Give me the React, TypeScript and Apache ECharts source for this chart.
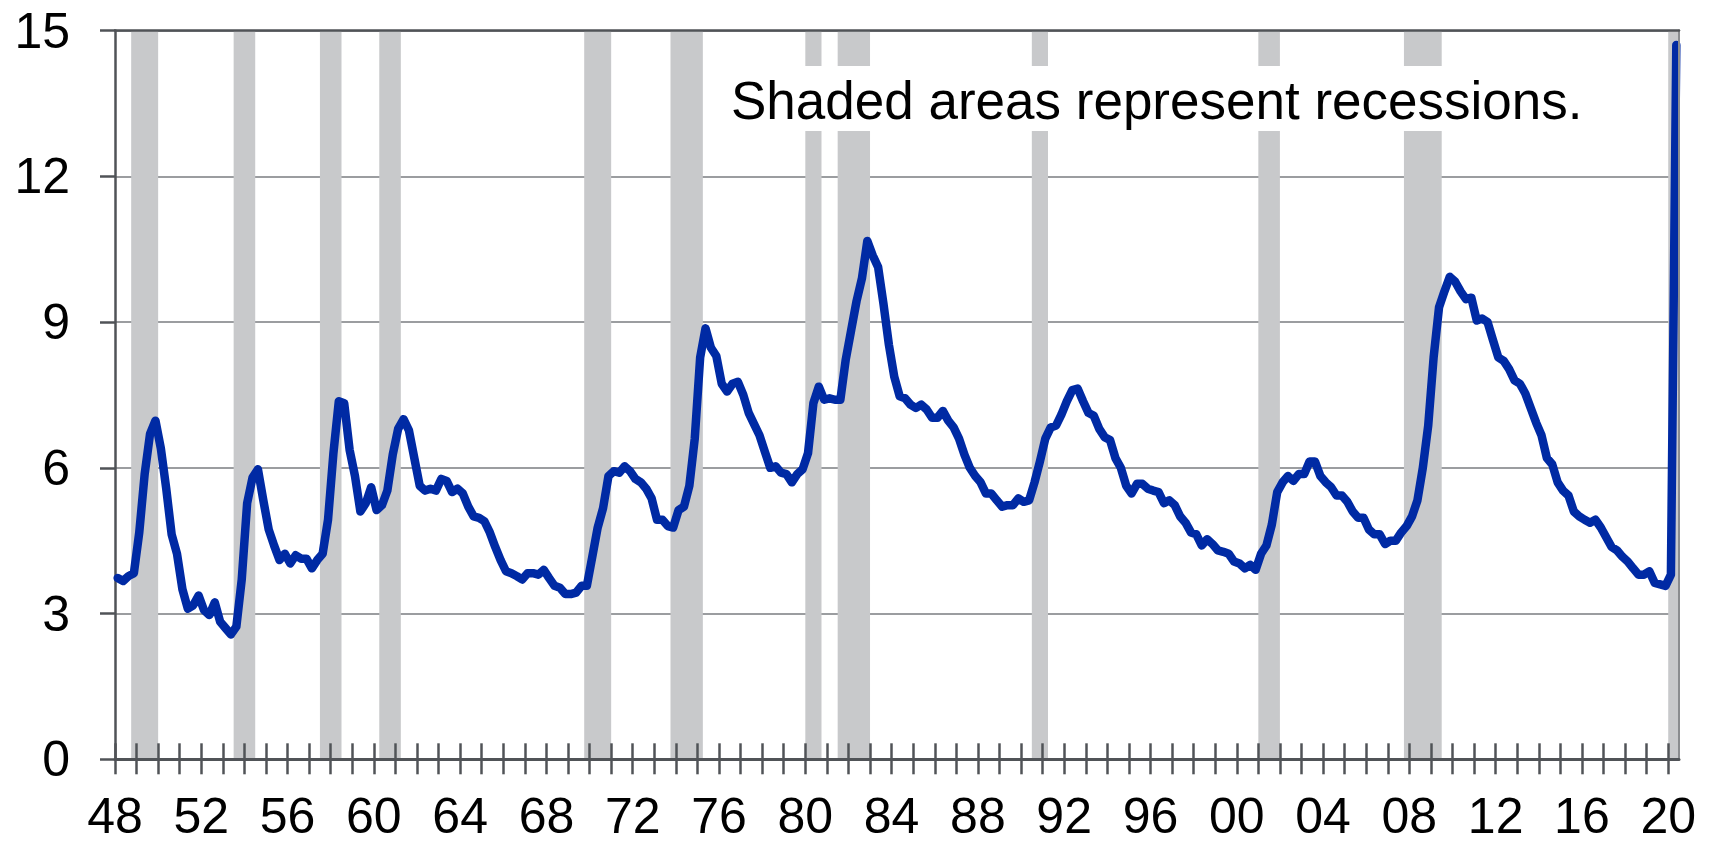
import React, { useEffect, useRef } from "react";
import * as echarts from "echarts";

// Quarterly average unemployment rate (%), starting 1948 Q1
const startYear = 1948;
const quarterlyRate: number[] = [
  3.73, 3.67, 3.77, 3.83, // 1948
  4.67, 5.87, 6.7, 6.97, // 1949
  6.4, 5.57, 4.63, 4.23, // 1950
  3.5, 3.1, 3.17, 3.37, // 1951
  3.07, 2.97, 3.23, 2.83, // 1952
  2.7, 2.57, 2.73, 3.7, // 1953
  5.27, 5.8, 5.97, 5.33, // 1954
  4.73, 4.4, 4.1, 4.23, // 1955
  4.03, 4.2, 4.13, 4.13, // 1956
  3.93, 4.1, 4.23, 4.93, // 1957
  6.3, 7.37, 7.33, 6.37, // 1958
  5.83, 5.1, 5.27, 5.6, // 1959
  5.13, 5.23, 5.53, 6.27, // 1960
  6.8, 7.0, 6.77, 6.2, // 1961
  5.63, 5.53, 5.57, 5.53, // 1962
  5.77, 5.73, 5.5, 5.57, // 1963
  5.47, 5.2, 5.0, 4.97, // 1964
  4.9, 4.67, 4.37, 4.1, // 1965
  3.87, 3.83, 3.77, 3.7, // 1966
  3.83, 3.83, 3.8, 3.9, // 1967
  3.73, 3.57, 3.53, 3.4, // 1968
  3.4, 3.43, 3.57, 3.57, // 1969
  4.17, 4.77, 5.17, 5.83, // 1970
  5.93, 5.9, 6.03, 5.93, // 1971
  5.77, 5.7, 5.57, 5.37, // 1972
  4.93, 4.93, 4.8, 4.77, // 1973
  5.13, 5.2, 5.63, 6.6, // 1974
  8.27, 8.87, 8.47, 8.3, // 1975
  7.73, 7.57, 7.73, 7.77, // 1976
  7.5, 7.13, 6.9, 6.67, // 1977
  6.33, 6.0, 6.03, 5.9, // 1978
  5.87, 5.7, 5.87, 5.97, // 1979
  6.3, 7.33, 7.67, 7.4, // 1980
  7.43, 7.4, 7.4, 8.23, // 1981
  8.83, 9.43, 9.9, 10.67, // 1982
  10.37, 10.13, 9.37, 8.53, // 1983
  7.87, 7.47, 7.43, 7.3, // 1984
  7.23, 7.3, 7.2, 7.03, // 1985
  7.03, 7.17, 6.97, 6.83, // 1986
  6.6, 6.27, 6.0, 5.83, // 1987
  5.7, 5.47, 5.47, 5.33, // 1988
  5.2, 5.23, 5.23, 5.37, // 1989
  5.3, 5.33, 5.7, 6.13, // 1990
  6.6, 6.83, 6.87, 7.1, // 1991
  7.37, 7.6, 7.63, 7.37, // 1992
  7.13, 7.07, 6.8, 6.63, // 1993
  6.57, 6.2, 6.0, 5.63, // 1994
  5.47, 5.67, 5.67, 5.57, // 1995
  5.53, 5.5, 5.27, 5.33, // 1996
  5.23, 5.0, 4.87, 4.67, // 1997
  4.63, 4.4, 4.53, 4.43, // 1998
  4.3, 4.27, 4.23, 4.07, // 1999
  4.03, 3.93, 4.0, 3.9, // 2000
  4.23, 4.4, 4.83, 5.5, // 2001
  5.7, 5.83, 5.73, 5.87, // 2002
  5.87, 6.13, 6.13, 5.83, // 2003
  5.7, 5.6, 5.43, 5.43, // 2004
  5.3, 5.1, 4.97, 4.97, // 2005
  4.73, 4.63, 4.63, 4.43, // 2006
  4.5, 4.5, 4.67, 4.8, // 2007
  5.0, 5.33, 6.0, 6.87, // 2008
  8.27, 9.3, 9.63, 9.93, // 2009
  9.83, 9.63, 9.47, 9.5, // 2010
  9.03, 9.07, 9.0, 8.63, // 2011
  8.27, 8.2, 8.03, 7.8, // 2012
  7.73, 7.53, 7.23, 6.93, // 2013
  6.67, 6.2, 6.07, 5.7, // 2014
  5.53, 5.43, 5.1, 5.0, // 2015
  4.93, 4.87, 4.93, 4.77, // 2016
  4.57, 4.37, 4.3, 4.17, // 2017
  4.07, 3.93, 3.8, 3.8, // 2018
  3.87, 3.63, 3.6, 3.57, // 2019
  3.8, // 2020 Q1
  14.7, // 2020 Q2 (April)
];

// Recession periods (fractional years)
const recessionStarts: number[] = [1948.75, 1953.5, 1957.5, 1960.25, 1969.75, 1973.75, 1980.0, 1981.5, 1990.5, 2001.0, 2007.75, 2020.0];
const recessionEnds: number[] = [1950.0, 1954.5, 1958.5, 1961.25, 1971.0, 1975.25, 1980.75, 1983.0, 1991.25, 2002.0, 2009.5, 2020.5];

const xMin = 1948;
const xMax = 2020.5;
const tickYears: number[] = [];
for (let y = 1948; y <= 2020; y++) tickYears.push(y);
const labelYears: number[] = [1948, 1952, 1956, 1960, 1964, 1968, 1972, 1976, 1980, 1984, 1988, 1992, 1996, 2000, 2004, 2008, 2012, 2016, 2020];
const yMin = 0;
const yMax = 15;
const yInterval = 3;

const annotation = "Shaded areas represent recessions.";

const AXIS_COLOR = "#505357";
const GRID_COLOR = "#9b9da0";
const BAR_COLOR = "#c8c9cb";
const LINE_COLOR = "#002aa4";
const FONT = "Liberation Sans";

export default function App() {
  const ref = useRef<HTMLDivElement>(null);

  useEffect(() => {
    document.body.style.margin = "0";
    if (!ref.current) return;
    const chart = echarts.init(ref.current, undefined, { renderer: "svg" });

    const lineData = quarterlyRate.map((v, i) => [startYear + (i + 0.5) / 4, v]);
    const areas = recessionStarts.map((s, i) => [{ xAxis: s }, { xAxis: recessionEnds[i] }]);
    const gridBox = { left: 115, right: 37, top: 30.5, bottom: 85.7 };

    const fmt = (v: number) => String(Math.round(v) % 100).padStart(2, "0");

    chart.setOption({
      animation: false,
      backgroundColor: "#ffffff",
      grid: [
        { ...gridBox, containLabel: false },
        { ...gridBox, containLabel: false },
      ],
      xAxis: [
        {
          type: "value",
          gridIndex: 0,
          position: "bottom",
          min: xMin,
          max: xMax,
          interval: 1,
          z: 5,
          axisLine: { show: true, onZero: false, lineStyle: { color: AXIS_COLOR, width: 3 } },
          axisTick: {
            show: true,
            inside: false,
            length: 15,
            customValues: tickYears,
            lineStyle: { color: AXIS_COLOR, width: 2.5 },
          },
          axisLabel: {
            show: true,
            customValues: labelYears,
            margin: 37,
            fontSize: 50,
            lineHeight: 40,
            fontFamily: FONT,
            color: "#000",
            formatter: fmt,
          },
          splitLine: { show: false },
        },
        {
          type: "value",
          gridIndex: 0,
          position: "top",
          min: xMin,
          max: xMax,
          z: 5,
          axisLine: { show: true, onZero: false, lineStyle: { color: AXIS_COLOR, width: 2.5 } },
          axisTick: { show: false },
          axisLabel: { show: false },
          splitLine: { show: false },
        },
        {
          type: "value",
          gridIndex: 1,
          position: "bottom",
          min: xMin,
          max: xMax,
          interval: 1,
          z: 5,
          axisLine: { show: false },
          axisTick: {
            show: true,
            inside: true,
            length: 16,
            customValues: tickYears,
            lineStyle: { color: AXIS_COLOR, width: 2.5 },
          },
          axisLabel: { show: false },
          splitLine: { show: false },
        },
      ],
      yAxis: [
        {
          type: "value",
          gridIndex: 0,
          position: "left",
          min: yMin,
          max: yMax,
          interval: yInterval,
          z: 0,
          axisLine: { show: true, lineStyle: { color: AXIS_COLOR, width: 2.5 } },
          axisTick: { show: true, inside: false, length: 15, lineStyle: { color: AXIS_COLOR, width: 2.5 } },
          axisLabel: { show: true, margin: 45, fontSize: 50, fontFamily: FONT, color: "#000" },
          splitLine: { show: true, lineStyle: { color: GRID_COLOR, width: 2 } },
        },
        {
          type: "value",
          gridIndex: 0,
          position: "right",
          min: yMin,
          max: yMax,
          interval: yInterval,
          z: 5,
          axisLine: { show: true, onZero: false, lineStyle: { color: "#8a8c8f", width: 2 } },
          axisTick: { show: false },
          axisLabel: { show: false },
          splitLine: { show: false },
        },
        {
          type: "value",
          gridIndex: 1,
          min: yMin,
          max: yMax,
          show: false,
        },
      ],
      series: [
        {
          type: "line",
          xAxisIndex: 0,
          yAxisIndex: 0,
          data: [],
          z: 1,
          silent: true,
          markArea: {
            silent: true,
            itemStyle: { color: BAR_COLOR, borderWidth: 0 },
            label: { show: false },
            data: areas,
          },
        },
        {
          type: "line",
          xAxisIndex: 0,
          yAxisIndex: 0,
          data: lineData,
          z: 3,
          clip: false,
          showSymbol: false,
          symbol: "none",
          lineStyle: { color: LINE_COLOR, width: 8.5, join: "round", cap: "round" },
        },
      ],
      graphic: [
        {
          type: "rect",
          z: 10,
          shape: { x: 715, y: 66, width: 895, height: 65 },
          style: { fill: "#ffffff" },
          silent: true,
        },
        {
          type: "text",
          z: 11,
          x: 731,
          y: 100.6,
          style: {
            text: annotation,
            fontSize: 53,
            fontFamily: FONT,
            fill: "#000",
            align: "left",
            verticalAlign: "middle",
          },
          silent: true,
        },
      ],
    });

    return () => chart.dispose();
  }, []);

  return <div ref={ref} style={{ width: 1716, height: 845 }} />;
}
